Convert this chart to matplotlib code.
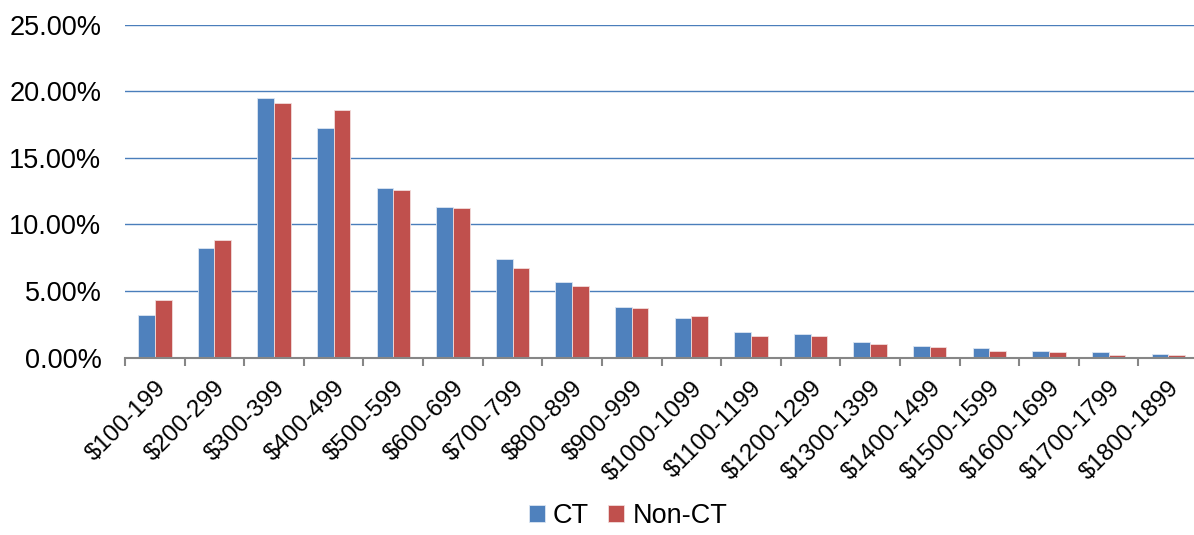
import numpy as np
import matplotlib.pyplot as plt
from matplotlib.ticker import FuncFormatter, FixedLocator

plt.rcParams['font.family'] = ['Liberation Sans', 'DejaVu Sans']

# 价格区间分布（占比，%）
categories = ['$100-199', '$200-299', '$300-399', '$400-499', '$500-599', '$600-699',
              '$700-799', '$800-899', '$900-999', '$1000-1099', '$1100-1199', '$1200-1299',
              '$1300-1399', '$1400-1499', '$1500-1599', '$1600-1699', '$1700-1799', '$1800-1899']
ct = [3.2, 8.2, 19.5, 17.2, 12.7, 11.3, 7.4, 5.7, 3.8, 3.0, 1.9, 1.8, 1.2, 0.9, 0.7, 0.5, 0.4, 0.3]
non_ct = [4.3, 8.8, 19.1, 18.6, 12.6, 11.2, 6.7, 5.4, 3.7, 3.1, 1.6, 1.6, 1.0, 0.8, 0.5, 0.4, 0.2, 0.2]
y_ticks = [0, 5, 10, 15, 20, 25]

BLUE = '#4F81BD'
RED = '#C0504D'

fig = plt.figure(figsize=(11.94, 5.35), dpi=100)
ax = fig.add_axes([0.1047, 0.3314, 0.8987, 0.6228])

x = np.arange(len(categories))
w = 0.28
ax.bar(x - w / 2, ct, w, color=BLUE, edgecolor='#DCE6F2', linewidth=0.6, label='CT', zorder=3)
ax.bar(x + w / 2, non_ct, w, color=RED, edgecolor='#F2DCDB', linewidth=0.6, label='Non-CT', zorder=3)

ax.set_xlim(-0.5, len(categories) - 0.5)
ax.set_ylim(0, 25)
ax.set_yticks(y_ticks)
ax.yaxis.set_major_formatter(FuncFormatter(lambda v, p: f'{v:.2f}%'))
ax.tick_params(axis='y', length=0, labelsize=19.5, pad=17)
ax.grid(axis='y', color='#4A7EBB', linewidth=1.0, zorder=0)

# 类别标签放在主刻度，刻度线放在类别分界处
ax.set_xticks(x)
ax.set_xticklabels(categories, rotation=45, ha='right', rotation_mode='anchor', fontsize=17.5)
ax.tick_params(axis='x', which='major', length=0, pad=14)
ax.xaxis.set_minor_locator(FixedLocator(np.arange(len(categories) + 1) - 0.5))
ax.tick_params(axis='x', which='minor', length=6, width=1.5, color='#868686', direction='out')

for s in ['top', 'right', 'left']:
    ax.spines[s].set_visible(False)
ax.spines['bottom'].set_color('#868686')
ax.spines['bottom'].set_linewidth(1.5)
ax.spines['bottom'].set_zorder(4)

fig.legend(loc='lower center', bbox_to_anchor=(0.526, -0.035), ncol=2, frameon=False,
           fontsize=19.5, handlelength=0.6, handleheight=0.6, handletextpad=0.3, columnspacing=0.7)

fig.savefig('out.png', dpi=100)
